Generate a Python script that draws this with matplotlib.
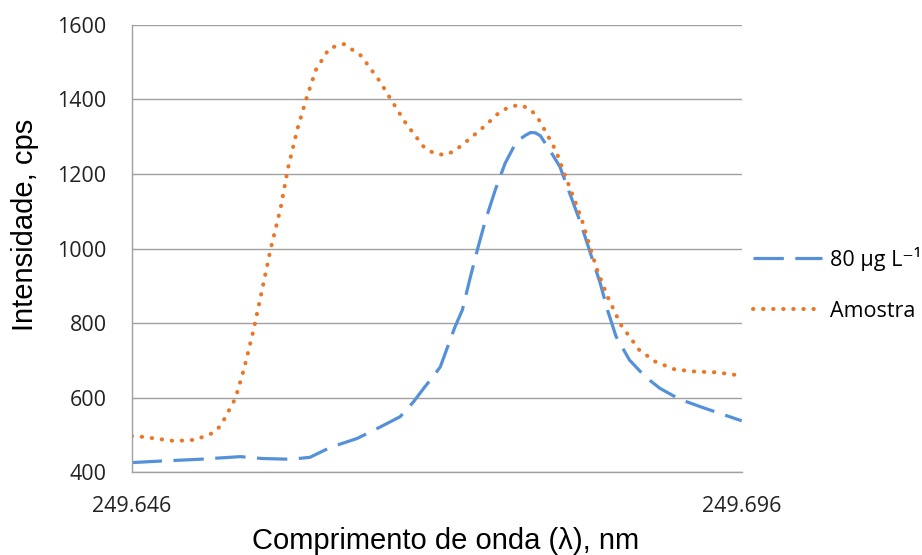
import matplotlib
matplotlib.use("Agg")
import matplotlib.pyplot as plt

# Espectro da amostra (Amostra)
wl_amostra = [249.6460, 249.6469, 249.6483, 249.6495, 249.6512, 249.6527, 249.6533,
              249.6545, 249.6552, 249.6560, 249.6567, 249.6574, 249.6582, 249.6588,
              249.6596, 249.6603, 249.6611, 249.6622, 249.6634, 249.6648, 249.6663,
              249.6672, 249.6685, 249.6700, 249.6708, 249.6716, 249.6724, 249.6737,
              249.6750, 249.6762, 249.6770, 249.6778, 249.6786, 249.6792, 249.6800,
              249.6808, 249.6814, 249.6823, 249.6829, 249.6836, 249.6841, 249.6850,
              249.6861, 249.6876, 249.6889, 249.6905, 249.6922, 249.6939, 249.6960]
int_amostra = [497, 495, 489, 484, 487, 506, 525,
               598, 676, 783, 891, 1000, 1107, 1214,
               1322, 1400, 1479, 1537, 1548, 1517, 1450,
               1402, 1334, 1270, 1255, 1251, 1260, 1294,
               1330, 1367, 1380, 1385, 1375, 1355, 1309,
               1260, 1206, 1130, 1076, 1000, 947, 871,
               795, 728, 697, 676, 670, 668, 659]

# Padrão 80 ug/L
wl_padrao = [249.6460, 249.6483, 249.6516, 249.6549, 249.6567, 249.6590, 249.6606,
             249.6623, 249.6645, 249.6664, 249.6680, 249.6691, 249.6700, 249.6706,
             249.6713, 249.6717, 249.6725, 249.6731, 249.6737, 249.6744, 249.6750,
             249.6758, 249.6766, 249.6774, 249.6779, 249.6783, 249.6787, 249.6791,
             249.6795, 249.6803, 249.6811, 249.6819, 249.6828, 249.6836, 249.6844,
             249.6850, 249.6857, 249.6868, 249.6881, 249.6893, 249.6909, 249.6926,
             249.6942, 249.6960]
int_padrao = [426, 430, 435, 442, 437, 435, 440,
              467, 491, 522, 549, 589, 628, 652,
              683, 719, 790, 835, 916, 1005, 1076,
              1157, 1228, 1278, 1295, 1304, 1311, 1310,
              1302, 1262, 1219, 1148, 1068, 987, 907,
              835, 764, 701, 656, 625, 596, 576,
              558, 538]

x_ticks = [249.646, 249.696]
y_ticks = [400, 600, 800, 1000, 1200, 1400, 1600]

tick_font = ["Open Sans", "DejaVu Sans"]
title_font = ["Liberation Sans", "DejaVu Sans"]

fig = plt.figure(figsize=(9.22, 5.55), dpi=100)
ax = fig.add_axes([0.1428, 0.149, 0.6617, 0.8065])

ax.plot(wl_padrao, int_padrao, color="#5591D8", lw=2.3,
        dashes=(9.5, 3.6), label="80 µg L⁻¹")
ax.plot(wl_amostra, int_amostra, color="#EB7628", lw=2.9,
        dashes=(0.1, 2.4), dash_capstyle="round", label="Amostra")

ax.set_xlim(249.646, 249.696)
ax.set_ylim(400, 1600)
ax.set_xticks(x_ticks)
ax.set_xticklabels(["249.646", "249.696"])
ax.set_yticks(y_ticks)
ax.tick_params(length=0, labelsize=15.5, colors="#222222")
ax.tick_params(axis="y", pad=18)
ax.tick_params(axis="x", pad=17)
for lbl in ax.get_xticklabels() + ax.get_yticklabels():
    lbl.set_family(tick_font)

ax.grid(axis="y", color="#A0A0A0", lw=1.0)
ax.set_axisbelow(True)
for side in ["top", "right"]:
    ax.spines[side].set_visible(False)
for side in ["left", "bottom"]:
    ax.spines[side].set_color("#A0A0A0")
    ax.spines[side].set_linewidth(1.0)

fig.text(0.4837, 1 - 549 / 555, "Comprimento de onda (λ), nm", fontsize=21,
         family=title_font, ha="center", va="baseline")
ax.set_ylabel("Intensidade, cps", fontsize=21, family=title_font)
ax.yaxis.set_label_coords(-0.152, 0.553)

leg = ax.legend(loc="center left", bbox_to_anchor=(0.987, 0.42), frameon=False,
                handlelength=3.2, handletextpad=0.35, labelspacing=1.4,
                prop={"family": tick_font, "size": 15.5})

fig.savefig("out.png", dpi=100)
